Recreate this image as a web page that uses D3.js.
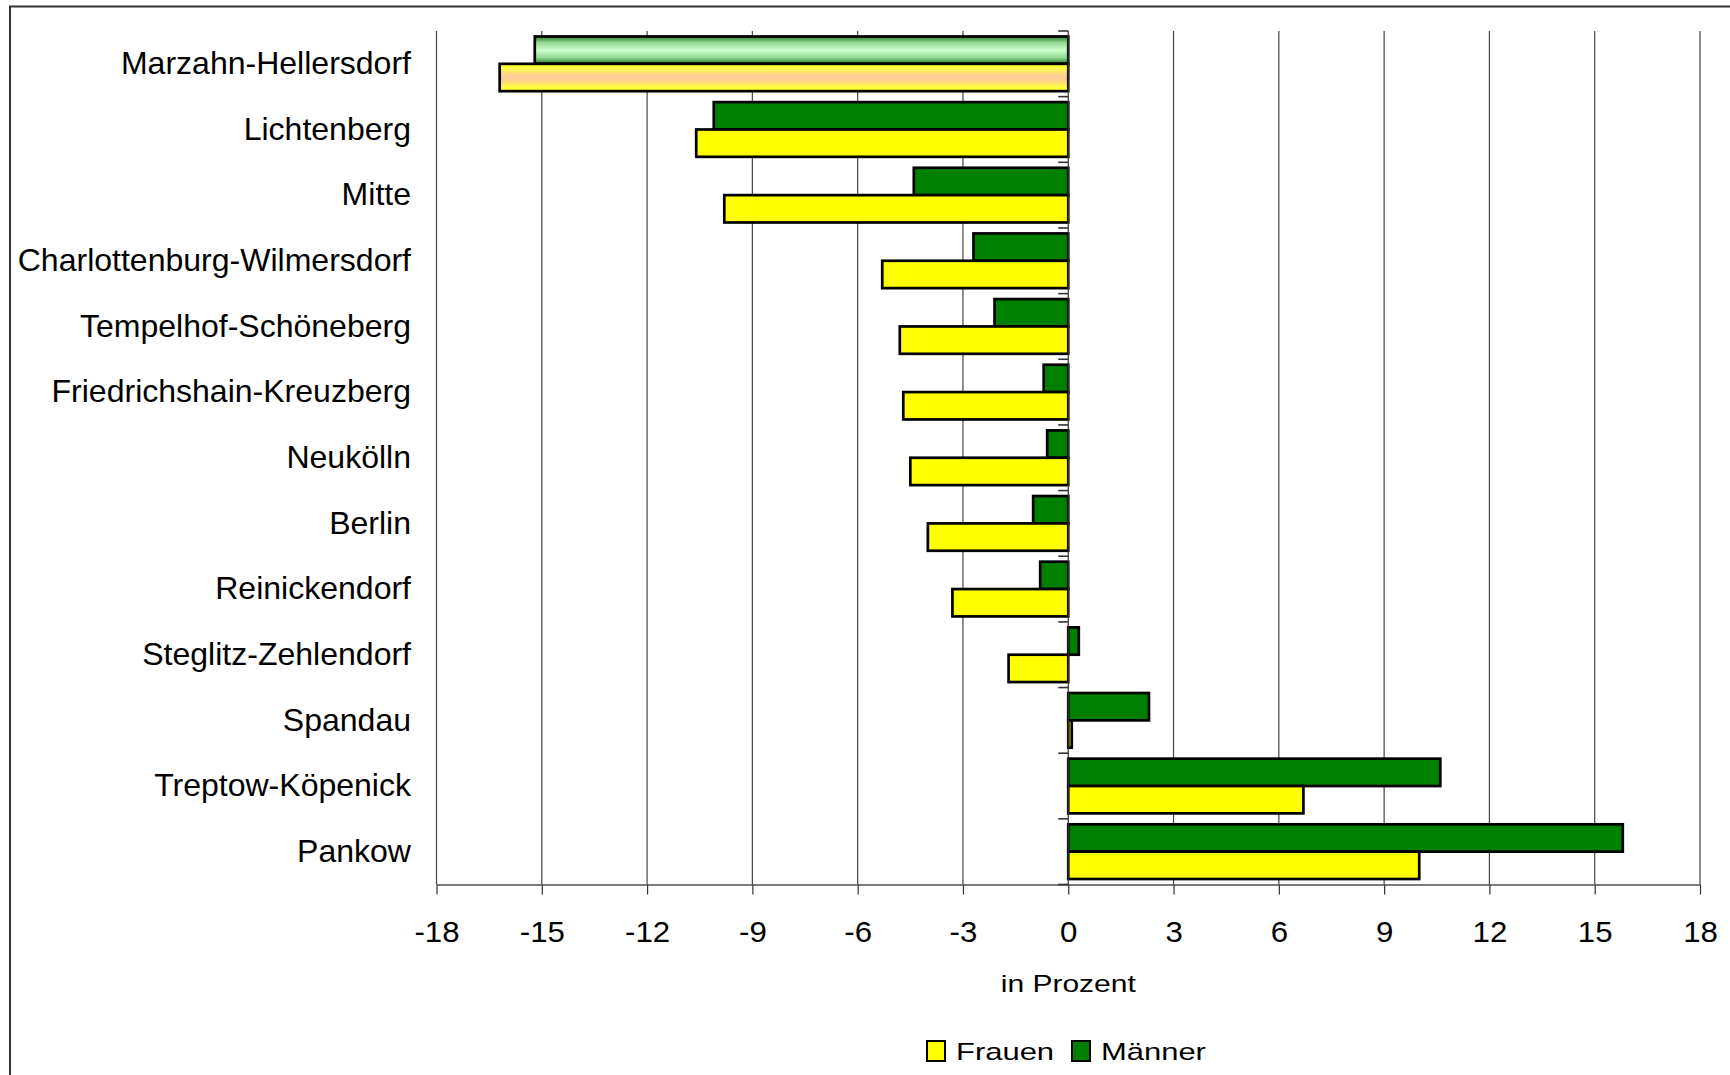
<!DOCTYPE html>
<html>
<head>
<meta charset="utf-8">
<script src="https://cdn.jsdelivr.net/npm/d3@7"></script>
<style>
  html, body { margin: 0; padding: 0; background: #fff; }
  svg { display: block; }
  text { font-family: "Liberation Sans", Arial, sans-serif; fill: #000; }
</style>
</head>
<body>
<svg id="chart" width="1730" height="1075"></svg>
<script>
// Bezirke, top to bottom
const categories = [
  "Marzahn-Hellersdorf", "Lichtenberg", "Mitte", "Charlottenburg-Wilmersdorf",
  "Tempelhof-Schöneberg", "Friedrichshain-Kreuzberg", "Neukölln", "Berlin",
  "Reinickendorf", "Steglitz-Zehlendorf", "Spandau", "Treptow-Köpenick", "Pankow"
];
// Veränderung in Prozent
const maenner = [-15.2, -10.1, -4.4, -2.7, -2.1, -0.7, -0.6, -1.0, -0.8, 0.3, 2.3, 10.6, 15.8];
const frauen  = [-16.2, -10.6, -9.8, -5.3, -4.8, -4.7, -4.5, -4.0, -3.3, -1.7, 0.1, 6.7, 10.0];
const xTicks = [-18, -15, -12, -9, -6, -3, 0, 3, 6, 9, 12, 15, 18];
const seriesNames = ["Männer", "Frauen"];
const legendNames = ["Frauen", "Männer"];
const axisTitle = "in Prozent";
const highlighted = "Marzahn-Hellersdorf";

const colors = { "Frauen": "#ffff00", "Männer": "#008000" };

const svg = d3.select("#chart");

// outer frame
svg.append("rect")
  .attr("x", 10).attr("y", 6.5)
  .attr("width", 1740).attr("height", 1090)
  .attr("fill", "none").attr("stroke", "#333").attr("stroke-width", 2);

const plot = { left: 436.5, right: 1700, top: 31, bottom: 884.5 };

const x = d3.scaleLinear().domain([-18, 18]).range([plot.left, plot.right]);
const y0 = d3.scaleBand().domain(categories).range([plot.top, plot.bottom]).paddingInner(0).paddingOuter(0);
const y1 = d3.scaleBand().domain(seriesNames).range([0, y0.bandwidth()]).paddingInner(0).paddingOuter(0.2);

// gradients for the highlighted district
const defs = svg.append("defs");
const gGreen = defs.append("linearGradient").attr("id", "gradGreen")
  .attr("x1", 0).attr("y1", 0).attr("x2", 0).attr("y2", 1);
[[0, "#2e7a2e"], [0.22, "#8fd88f"], [0.5, "#ccffcc"], [0.78, "#8fd88f"], [1, "#2e7a2e"]]
  .forEach(([o, c]) => gGreen.append("stop").attr("offset", o).attr("stop-color", c));
const gYellow = defs.append("linearGradient").attr("id", "gradYellow")
  .attr("x1", 0).attr("y1", 0).attr("x2", 0).attr("y2", 1);
[[0, "#ffff20"], [0.15, "#ffff40"], [0.4, "#ffd090"], [0.5, "#ffcc99"], [0.6, "#ffd090"], [0.85, "#ffff40"], [1, "#ffff20"]]
  .forEach(([o, c]) => gYellow.append("stop").attr("offset", o).attr("stop-color", c));

// vertical gridlines
svg.append("g").selectAll("line")
  .data(xTicks.filter(t => t !== 0))
  .join("line")
  .attr("x1", d => x(d)).attr("x2", d => x(d))
  .attr("y1", plot.top).attr("y2", plot.bottom)
  .attr("stroke", "#444").attr("stroke-width", 1.2);

// x axis (bottom)
const xAxis = svg.append("g")
  .attr("transform", `translate(0,${plot.bottom})`)
  .call(d3.axisBottom(x).tickValues(xTicks).tickSize(10).tickSizeOuter(0).tickFormat(d => String(d)));
xAxis.select(".domain").attr("stroke", "#7a7a7a").attr("stroke-width", 2.2);
xAxis.selectAll(".tick line").attr("stroke", "#333").attr("stroke-width", 1.2);
xAxis.selectAll(".tick text")
  .attr("font-size", 30)
  .attr("font-family", "'Liberation Sans', Arial, sans-serif")
  .attr("fill", "#000")
  .attr("dy", null)
  .attr("y", null)
  .attr("transform", "translate(0,57) scale(1.04,1)");

// bars
const rows = categories.map((c, i) => ({ cat: c, "Männer": maenner[i], "Frauen": frauen[i] }));
const groups = svg.append("g").selectAll("g")
  .data(rows)
  .join("g")
  .attr("transform", d => `translate(0,${y0(d.cat)})`);

groups.selectAll("rect")
  .data(d => seriesNames.map(s => ({ cat: d.cat, key: s, value: d[s] })))
  .join("rect")
  .attr("x", d => x(Math.min(0, d.value)))
  .attr("width", d => Math.abs(x(d.value) - x(0)))
  .attr("y", d => y1(d.key))
  .attr("height", y1.bandwidth())
  .attr("fill", d => d.cat === highlighted
      ? (d.key === "Männer" ? "url(#gradGreen)" : "url(#gradYellow)")
      : colors[d.key])
  .attr("stroke", "#000")
  .attr("stroke-width", 2.7);

// category axis at zero
const yAxis = svg.append("g")
  .attr("transform", `translate(${x(0)},0)`);
yAxis.append("line")
  .attr("x1", 0).attr("x2", 0)
  .attr("y1", plot.top).attr("y2", plot.bottom)
  .attr("stroke", "#333").attr("stroke-width", 1.2);
const boundaries = categories.map(c => y0(c)).concat([plot.bottom]);
yAxis.selectAll("line.tk")
  .data(boundaries)
  .join("line")
  .attr("class", "tk")
  .attr("x1", -10).attr("x2", 0)
  .attr("y1", d => d).attr("y2", d => d)
  .attr("stroke", "#333").attr("stroke-width", 1.6);

// category labels
svg.append("g").selectAll("text")
  .data(categories)
  .join("text")
  .attr("transform", d => `translate(411,${y0(d) + y0.bandwidth() / 2 + 10.2}) scale(1.05,1)`)
  .attr("text-anchor", "end")
  .attr("font-size", 30.5)
  .text(d => d);

// axis title
svg.append("text")
  .attr("transform", `translate(${x(0)},991.5) scale(1.25,1)`)
  .attr("text-anchor", "middle")
  .attr("font-size", 24)
  .text(axisTitle);

// legend
const legend = svg.append("g").attr("transform", "translate(927,1041)");
const legendX = [0, 145];
legendNames.forEach((name, i) => {
  const g = legend.append("g").attr("transform", `translate(${legendX[i]},0)`);
  g.append("rect")
    .attr("x", 0).attr("y", 0).attr("width", 18).attr("height", 20)
    .attr("fill", colors[name]).attr("stroke", "#000").attr("stroke-width", 2);
  g.append("text")
    .attr("transform", "translate(29,19) scale(1.29,1)")
    .attr("font-size", 24)
    .text(name);
});
</script>
</body>
</html>
